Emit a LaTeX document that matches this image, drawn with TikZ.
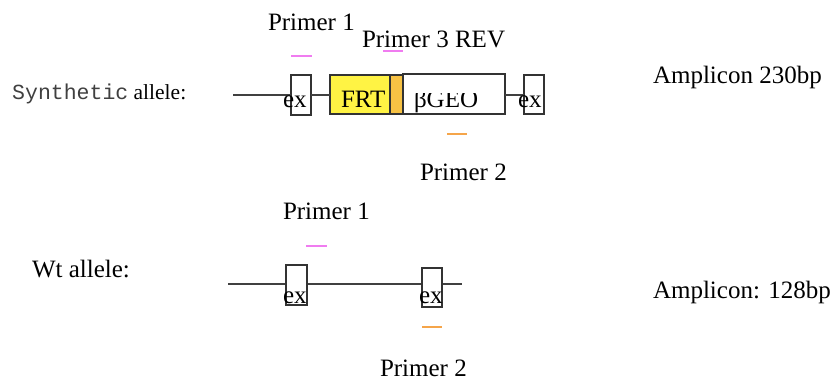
\documentclass[tikz,border=0pt]{standalone}
\usepackage{fontspec}
\setmainfont{Liberation Serif}
\newfontfamily\cmono{Liberation Mono}
\definecolor{frtyellow}{HTML}{FFF344}
\definecolor{frtorange}{HTML}{F7C244}
\definecolor{pfwd}{HTML}{F07CF0}
\definecolor{prev}{HTML}{F5A54A}
\begin{document}
\begin{tikzpicture}[x=1pt,y=-1pt,
  lbl/.style={anchor=base west, inner sep=0pt, outer sep=0pt, font=\fontsize{25}{30}\selectfont},
  boxbase/.style={anchor=north west, draw=black!80, line width=1.4pt, inner sep=0pt, outer sep=0pt},
  exbox/.style={boxbase, fill=white},
  dna/.style={draw=black!75, line width=2pt},
  fwdmark/.style={draw=pfwd, line width=2.2pt},
  revmark/.style={draw=prev, line width=2.2pt}
]
\useasboundingbox (0,0) rectangle (834,381);

% ---------- synthetic allele ----------
\node[anchor=base west, inner sep=0pt] (synlbl) at (12,99)
  {\fontsize{21.5}{26}\selectfont{\cmono\color{black!75}Synthetic} allele:};

\coordinate (sstart) at (233,94.5);
\node[exbox, minimum width=20pt, minimum height=40pt] (se1) at (291,75) {};
\node[boxbase, fill=frtyellow, minimum width=60pt, minimum height=39pt] (sfrt) at (330,75) {};
\node[boxbase, fill=frtorange, minimum width=13pt, minimum height=39pt] (sorn) at (390,75) {};
\node[exbox, minimum width=102pt, minimum height=40pt] (sbgeo) at (403,74) {};
\node[exbox, minimum width=20pt, minimum height=39pt] (se2) at (524,75) {};

\draw[dna] (sstart) -- (se1.west |- sstart);
\draw[dna] (se1.east |- sstart) -- (sfrt.west |- sstart);
\draw[dna] (sbgeo.east |- sstart) -- (se2.west |- sstart);

\node[lbl] (sex1) at (283,107) {ex};
\node[lbl] (sfrtt) at (341,107) {FRT};
\begin{scope}
  \clip (404,93) rectangle (504,113);
  \node[lbl] (sbgeot) at (414,107) {βGEO};
\end{scope}
\node[lbl] (sex2) at (518,107) {ex};

\node[lbl] (sp1) at (268,30) {Primer 1};
\node[lbl] (sp3) at (362,47) {Primer 3 REV};
\node[lbl] (sp2) at (420,180) {Primer 2};
\draw[fwdmark] (291,56) -- (312,56);
\draw[fwdmark] (383,51) -- (403,51);
\draw[revmark] (447,134) -- (467,134);

\node[lbl] (samp) at (653,83) {Amplicon 230bp};

% ---------- wild-type allele ----------
\node[lbl] (wtlbl) at (32,277) {Wt allele:};

\coordinate (wstart) at (228,284);
\coordinate (wend) at (462,284);
\draw[dna] (wstart) -- (wend);
\node[exbox, minimum width=21pt, minimum height=40pt] (we1) at (286,265) {};
\node[exbox, minimum width=20pt, minimum height=39pt] (we2) at (422,268) {};
\node[lbl] (wex1) at (283,303) {ex};
\node[lbl] (wex2) at (419,303) {ex};

\node[lbl] (wp1) at (283,219) {Primer 1};
\node[lbl] (wp2) at (380,376) {Primer 2};
\draw[fwdmark] (306,246) -- (327,246);
\draw[revmark] (422,327) -- (442,327);

\node[lbl] (wamp) at (653,298) {Amplicon: 128bp};
\end{tikzpicture}
\end{document}
